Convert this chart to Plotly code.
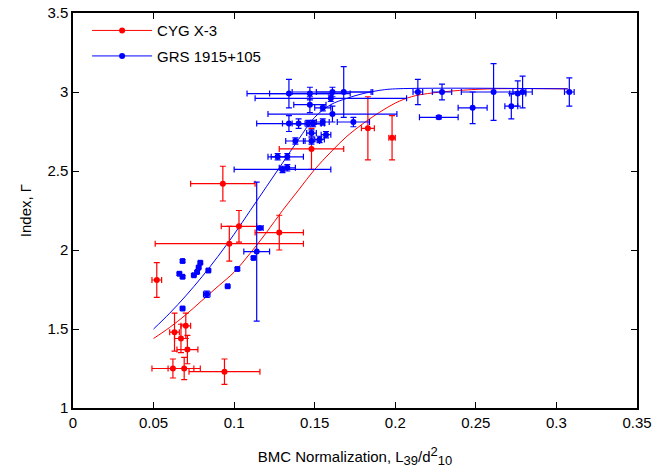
import plotly.graph_objects as go

# ---- CYG X-3 (red) ----
cyg_x = [0.052, 0.093, 0.103, 0.097, 0.128, 0.148, 0.183, 0.198, 0.063, 0.070, 0.067, 0.071, 0.062, 0.069, 0.094]
cyg_y = [1.81, 2.42, 2.15, 2.04, 2.11, 2.64, 2.77, 2.71, 1.48, 1.52, 1.44, 1.37, 1.25, 1.25, 1.23]
cyg_xerr = [0.003, 0.020, 0.011, 0.046, 0.015, 0.020, 0.004, 0.002, 0.003, 0.003, 0.004, 0.0065, 0.013, 0.010, 0.022]
cyg_yerr = [0.11, 0.11, 0.10, 0.11, 0.11, 0.13, 0.20, 0.14, 0.12, 0.08, 0.09, 0.09, 0.06, 0.07, 0.08]

# ---- GRS 1915+105 (blue) ----
grs_x = [0.068, 0.066, 0.068, 0.079, 0.078, 0.077, 0.075, 0.084, 0.083, 0.096,
         0.102, 0.068, 0.112, 0.114, 0.116, 0.127, 0.133, 0.130, 0.133, 0.134,
         0.147, 0.161, 0.168, 0.160, 0.147, 0.155, 0.161, 0.134, 0.140, 0.146,
         0.149, 0.155, 0.174, 0.148, 0.157, 0.138, 0.148, 0.153, 0.214, 0.229,
         0.227, 0.248, 0.261, 0.272, 0.276, 0.279, 0.308]
grs_y = [1.93, 1.85, 1.83, 1.92, 1.89, 1.86, 1.84, 1.87, 1.72, 1.77,
         1.88, 1.63, 1.95, 1.99, 2.14, 2.59, 2.59, 2.51, 2.52, 2.99,
         2.99, 3.00, 3.00, 2.96, 2.92, 2.90, 2.86, 2.80, 2.80, 2.80,
         2.80, 2.81, 2.81, 2.74, 2.73, 2.69, 2.69, 2.70, 3.00, 3.00,
         2.84, 2.90, 3.00, 2.91, 2.99, 3.00, 3.00]
grs_xerr = [0.001, 0.001, 0.001, 0.001, 0.001, 0.001, 0.001, 0.001, 0.002, 0.001,
            0.001, 0.001, 0.001, 0.008, 0.002, 0.006, 0.010, 0.030, 0.005, 0.026,
            0.025, 0.025, 0.017, 0.047, 0.010, 0.005, 0.040, 0.020, 0.010, 0.010,
            0.005, 0.004, 0.010, 0.003, 0.003, 0.006, 0.005, 0.003, 0.003, 0.006,
            0.012, 0.009, 0.020, 0.004, 0.005, 0.006, 0.003]
grs_yerr = [0.01, 0.01, 0.01, 0.01, 0.01, 0.01, 0.01, 0.01, 0.02, 0.01,
            0.01, 0.01, 0.01, 0.44, 0.01, 0.02, 0.02, 0.02, 0.02, 0.09,
            0.04, 0.03, 0.16, 0.02, 0.05, 0.02, 0.05, 0.05, 0.03, 0.02,
            0.02, 0.02, 0.03, 0.02, 0.02, 0.02, 0.02, 0.02, 0.08, 0.05,
            0.01, 0.10, 0.18, 0.08, 0.08, 0.10, 0.09]

# ---- fitted curves ----
cyg_fit_x = [0.05, 0.06, 0.07, 0.08, 0.09, 0.10, 0.11, 0.12, 0.13, 0.14, 0.15, 0.16, 0.17, 0.18, 0.19, 0.20, 0.21, 0.22, 0.24, 0.26, 0.307]
cyg_fit_y = [1.44, 1.51, 1.59, 1.68, 1.77, 1.86, 1.98, 2.11, 2.25, 2.38, 2.51, 2.62, 2.72, 2.80, 2.87, 2.93, 2.97, 2.99, 3.01, 3.02, 3.02]
grs_fit_x = [0.05, 0.06, 0.07, 0.08, 0.09, 0.10, 0.11, 0.12, 0.13, 0.14, 0.15, 0.16, 0.17, 0.18, 0.19, 0.20, 0.307]
grs_fit_y = [1.50, 1.60, 1.71, 1.83, 1.96, 2.10, 2.25, 2.40, 2.55, 2.70, 2.84, 2.92, 2.96, 2.99, 3.01, 3.02, 3.02]

x_ticks = [0, 0.05, 0.1, 0.15, 0.2, 0.25, 0.3, 0.35]
x_tick_text = ["0", "0.05", "0.1", "0.15", "0.2", "0.25", "0.3", "0.35"]
y_ticks = [1, 1.5, 2, 2.5, 3, 3.5]
y_tick_text = ["1", "1.5", "2", "2.5", "3", "3.5"]

RED = "#ff0000"
BLUE = "#0000ff"
FONT = "Liberation Sans, Arial, Helvetica, sans-serif"

fig = go.Figure()

fig.add_trace(go.Scatter(x=cyg_fit_x, y=cyg_fit_y, mode="lines", line=dict(color=RED, width=1, shape="spline"),
                         showlegend=False, hoverinfo="skip"))
fig.add_trace(go.Scatter(x=grs_fit_x, y=grs_fit_y, mode="lines", line=dict(color=BLUE, width=1, shape="spline"),
                         showlegend=False, hoverinfo="skip"))

fig.add_trace(go.Scatter(
    x=cyg_x, y=cyg_y, mode="markers", showlegend=False,
    marker=dict(color=RED, size=6),
    error_x=dict(type="data", array=cyg_xerr, color=RED, thickness=1.2, width=3),
    error_y=dict(type="data", array=cyg_yerr, color=RED, thickness=1.2, width=3),
))
fig.add_trace(go.Scatter(
    x=grs_x, y=grs_y, mode="markers", showlegend=False,
    marker=dict(color=BLUE, size=6),
    error_x=dict(type="data", array=grs_xerr, color=BLUE, thickness=1.2, width=3),
    error_y=dict(type="data", array=grs_yerr, color=BLUE, thickness=1.2, width=3),
))

# legend entries
fig.add_trace(go.Scatter(x=[None], y=[None], mode="lines+markers", name="CYG X-3", legendgroup="a",
                         line=dict(color=RED, width=1), marker=dict(color=RED, size=6)))
fig.add_trace(go.Scatter(x=[None], y=[None], mode="lines+markers", name="GRS 1915+105", legendgroup="b",
                         line=dict(color=BLUE, width=1), marker=dict(color=BLUE, size=6)))

axis_common = dict(
    showgrid=False, zeroline=False, showline=True, linecolor="black", linewidth=1.5,
    mirror="ticks", ticks="inside", ticklen=6, tickcolor="black", tickwidth=1,
    tickfont=dict(family=FONT, size=15, color="black"), automargin=False,
)

x_title = ("BMC Normalization, L<sub><span style='font-size:13px'>39</span></sub>/d"
           "<sup><span style='font-size:13px'>2</span></sup><sub><span style='font-size:13px'>10</span></sub>")

fig.update_layout(
    width=659, height=472,
    margin=dict(l=73, r=22, t=13, b=64, autoexpand=False),
    paper_bgcolor="white", plot_bgcolor="white",
    font=dict(family=FONT, size=15, color="black"),
    legend=dict(x=0.025, y=0.997, xanchor="left", yanchor="top", bgcolor="rgba(0,0,0,0)",
                font=dict(family=FONT, size=15), tracegroupgap=3, itemwidth=60),
    xaxis=dict(range=[0, 0.35], tickvals=x_ticks, ticktext=x_tick_text,
               title=dict(text=x_title, font=dict(family=FONT, size=15), standoff=22),
               **axis_common),
    yaxis=dict(range=[1, 3.5], tickvals=y_ticks, ticktext=y_tick_text,
               title=dict(text="Index, Γ", font=dict(family=FONT, size=15), standoff=12),
               **axis_common),
)

fig.write_html("out.html")
